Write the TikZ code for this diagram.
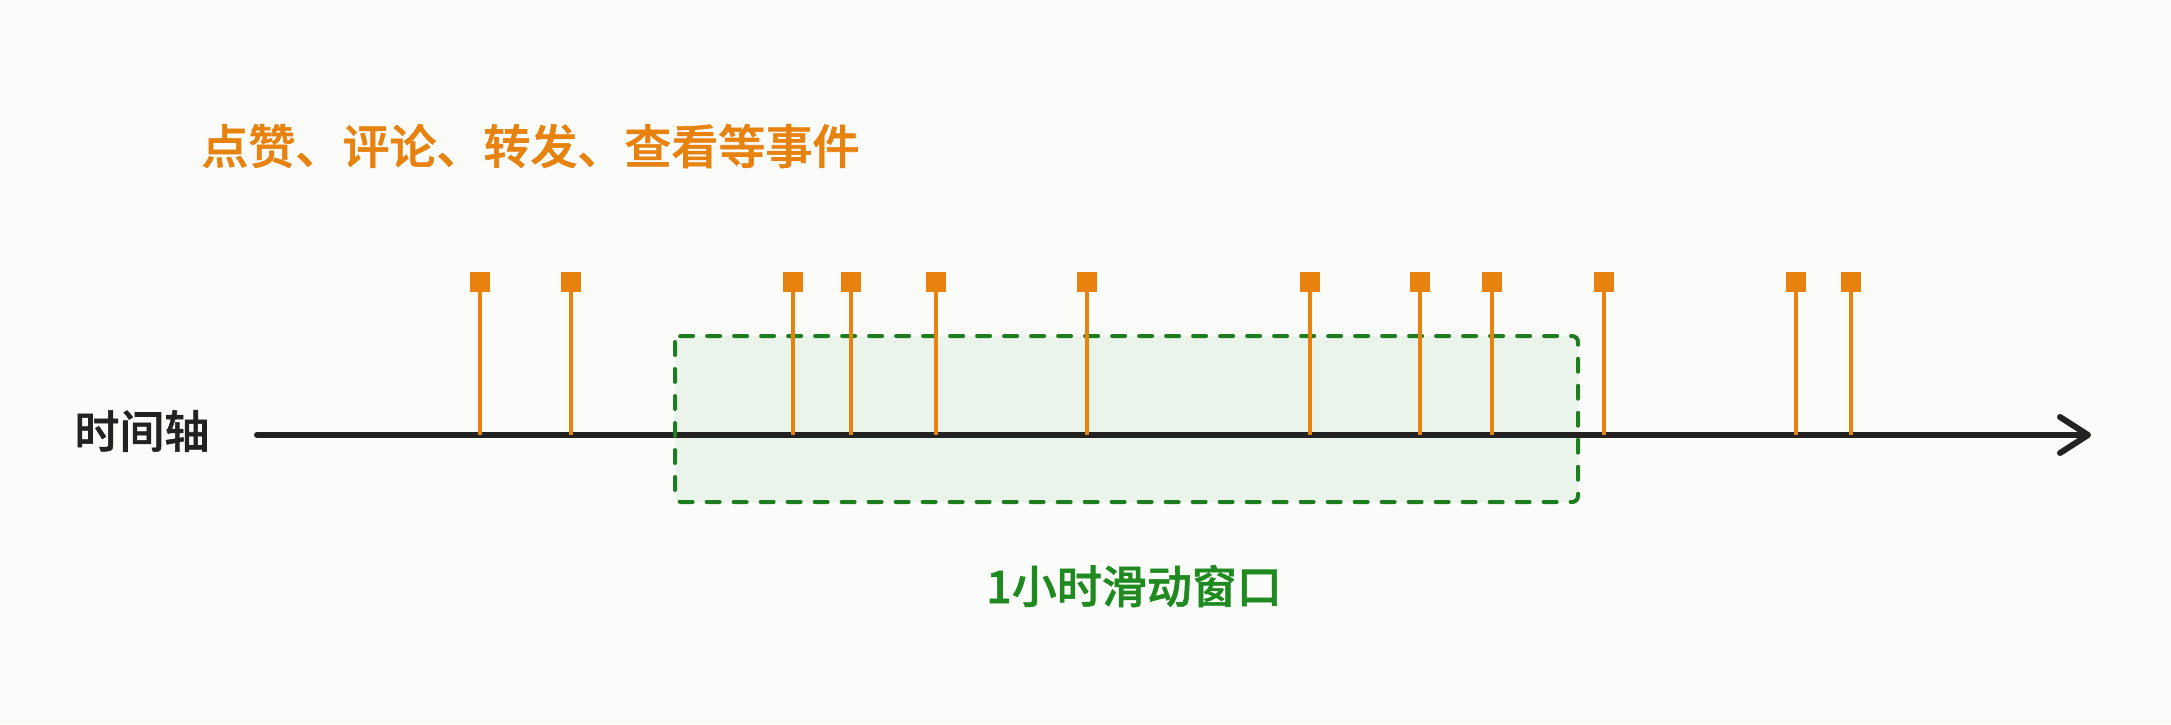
\documentclass[tikz,border=0pt]{standalone}
\usepackage{fontspec}
\newfontfamily\cjk{Noto Sans CJK SC Medium}[FakeBold=1.2]
\usetikzlibrary{arrows.meta}
\definecolor{bgc}{HTML}{FBFBFA}
\definecolor{evorange}{HTML}{E8820E}
\definecolor{wingreen}{HTML}{1E7D1E}
\definecolor{wintext}{HTML}{1F8A1F}
\definecolor{winfill}{HTML}{EAF4EA}
\definecolor{axisc}{HTML}{222222}
\tikzset{
  evsq/.style={fill=evorange, draw=none, minimum width=10pt, minimum height=10pt, inner sep=0pt},
  stem/.style={draw=evorange, line width=2.4pt},
  axisline/.style={draw=axisc, line width=3pt, line cap=round, -{Straight Barb[length=14pt,width=18pt,round]}},
  winbox/.style={draw=wingreen, fill=winfill, line width=2pt, line cap=round, dash pattern=on 6.5pt off 7pt, rounded corners=3pt},
  lbl/.style={inner sep=0pt, font=\cjk}
}
\begin{document}
\begin{tikzpicture}[x=0.5pt,y=-0.5pt]
\fill[bgc] (0,0) rectangle (2171,724);
\useasboundingbox (0,0) rectangle (2171,724);
% window
\fill[winfill, rounded corners=3pt] (675,336) rectangle (1578,502);
% axis
\coordinate (a0) at (257,435);
\coordinate (a1) at (2091,435);
\draw[axisline] (a0) -- (a1);
\draw[winbox, fill=none] (675,336) rectangle (1578,502);
% events
\foreach \i/\x in {1/480,2/571,3/793,4/851,5/936,6/1087,7/1310,8/1420,9/1492,10/1604,11/1796,12/1851}{
  \node[evsq] (e\i) at (\x,282) {};
  \draw[stem] (e\i.south) -- (e\i.south |- a0);
}
% labels
\node[lbl, text=evorange, anchor=west, font=\cjk\fontsize{23.5pt}{28pt}\selectfont] (title) at (201,146) {点赞、评论、转发、查看等事件};
\node[lbl, text=axisc, anchor=west, font=\cjk\fontsize{22.5pt}{27pt}\selectfont] (axl) at (74,431) {时间轴};
\node[lbl, text=wintext, font=\cjk\fontsize{22.5pt}{27pt}\selectfont] (winl) at (1134,586) {1小时滑动窗口};
\end{tikzpicture}
\end{document}
